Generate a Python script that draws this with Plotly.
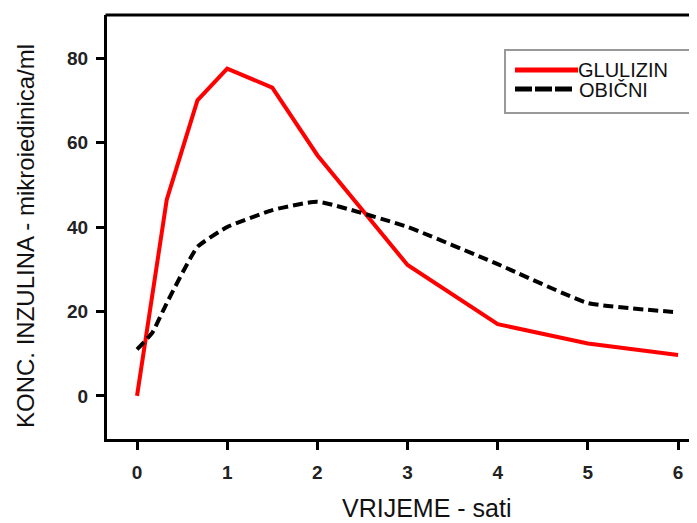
import plotly.graph_objects as go

# Data
time_glulizin = [0, 0.33, 0.67, 1, 1.5, 2, 3, 4, 5, 6]
glulizin = [0, 46.5, 70, 77.5, 73, 57, 31, 17, 12.4, 9.7]

time_obicni = [0, 0.17, 0.33, 0.67, 1, 1.5, 2, 3, 4, 5, 6]
obicni = [11, 15, 22, 35.3, 40, 44, 46, 40, 31.2, 22, 19.8]

x_ticks = [0, 1, 2, 3, 4, 5, 6]
y_ticks = [0, 20, 40, 60, 80]

# The page has an 8px body margin, so the figure is laid out 8px smaller and shifted
OFF = 8
W, H = 697 - OFF, 523 - OFF
L, R, T, B = 107 - OFF, 0, 15 - OFF, 523 - 439
PW, PH = W - L - R, H - T - B


def px_x(px):
    return (px - OFF - L) / PW


def px_y(py):
    return (H - B - (py - OFF)) / PH


fig = go.Figure()
fig.add_trace(go.Scatter(x=time_glulizin, y=glulizin, mode="lines", name="GLULIZIN",
                         line=dict(color="#FF0000", width=4), showlegend=False))
fig.add_trace(go.Scatter(x=time_obicni, y=obicni, mode="lines", name="OBIČNI",
                         line=dict(color="#000000", width=4, dash="10px,5px", shape="spline", smoothing=0.4),
                         showlegend=False))

tick_font = dict(family="Liberation Sans, Arial", size=19, color="#222222", weight="bold")

fig.update_xaxes(range=[-0.333, 6.21], tickvals=x_ticks, showline=True, linecolor="black", linewidth=3,
                 ticks="outside", ticklen=8, tickwidth=3, tickcolor="black", showgrid=False,
                 zeroline=False, tickfont=tick_font, ticklabelstandoff=6)
fig.update_yaxes(range=[-10.2, 90.2], tickvals=y_ticks, showline=True, linecolor="black", linewidth=3,
                 ticks="outside", ticklen=8, tickwidth=3, tickcolor="black", showgrid=False,
                 zeroline=False, tickfont=tick_font, ticklabelstandoff=4)

shapes = [
    # top frame line
    dict(type="line", xref="paper", yref="paper", x0=px_x(105.5), x1=1.05, y0=px_y(15), y1=px_y(15),
         line=dict(color="black", width=3)),
    # legend box
    dict(type="rect", xref="paper", yref="paper", x0=px_x(505), x1=px_x(690), y0=px_y(113), y1=px_y(50),
         line=dict(color="#999999", width=2), fillcolor="white"),
    dict(type="line", xref="paper", yref="paper", x0=px_x(515), x1=px_x(578), y0=px_y(70), y1=px_y(70),
         line=dict(color="#FF0000", width=5)),
    dict(type="line", xref="paper", yref="paper", x0=px_x(515), x1=px_x(572), y0=px_y(89), y1=px_y(89),
         line=dict(color="black", width=5, dash="17px,3px")),
]

legend_font = dict(family="Liberation Sans, Arial", size=20, color="#111111")
annotations = [
    dict(text="GLULIZIN", xref="paper", yref="paper", x=px_x(576), y=px_y(70), xanchor="left", yanchor="middle",
         showarrow=False, font=legend_font),
    dict(text="OBIČNI", xref="paper", yref="paper", x=px_x(577), y=px_y(90), xanchor="left", yanchor="middle",
         showarrow=False, font=legend_font),
    dict(text="VRIJEME - sati", xref="paper", yref="paper", x=px_x(426), y=px_y(524), xanchor="center",
         yanchor="bottom", showarrow=False, font=dict(family="Liberation Sans, Arial", size=25, color="#111111")),
    dict(text="KONC. INZULINA - mikroiedinica/ml", xref="paper", yref="paper", x=px_x(25), y=px_y(236),
         xanchor="center", yanchor="middle", textangle=-90, showarrow=False,
         font=dict(family="Liberation Sans, Arial", size=24, color="#111111")),
]

fig.update_layout(width=W, height=H, margin=dict(l=L, r=R, t=T, b=B), plot_bgcolor="white",
                  paper_bgcolor="white", shapes=shapes, annotations=annotations, showlegend=False)

fig.write_html("out.html")
